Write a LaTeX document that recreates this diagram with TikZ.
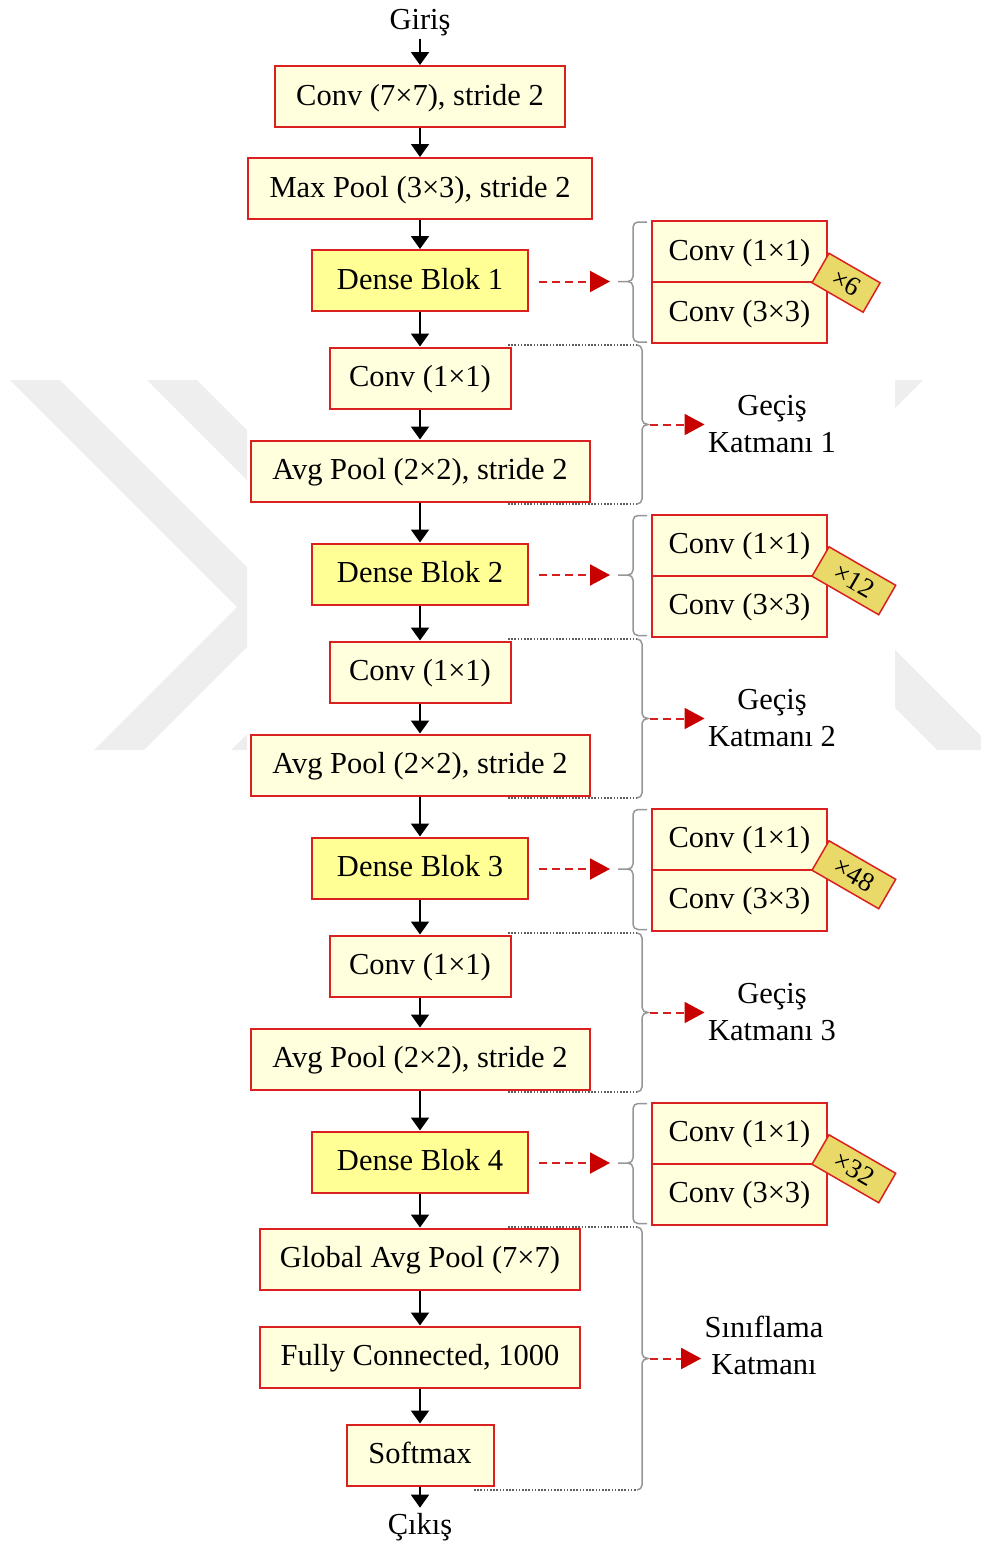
\documentclass[tikz,border=0pt]{standalone}
\usepackage{fontspec}
\setmainfont{Liberation Serif}
\usetikzlibrary{arrows.meta}

\definecolor{boxred}{RGB}{218,32,32}
\definecolor{boxfill}{RGB}{255,255,221}
\definecolor{densefill}{RGB}{255,255,150}
\definecolor{tagfill}{RGB}{232,217,104}
\definecolor{arrowred}{RGB}{200,0,0}
\definecolor{dashred}{RGB}{215,30,30}
\definecolor{bracegray}{RGB}{150,150,150}
\definecolor{dotgray}{RGB}{95,95,95}
\definecolor{markgray}{RGB}{238,238,238}

% curly brace on the left of a dense block's inner layers
\newcommand\DetailBrace[3]{% top y, tip y, bottom y
  \draw[brace] (647,#1) -- (638,#1) to[out=180,in=90] (633,#1+5) -- (633,#2-5)
    to[out=-90,in=0] (628,#2) -- (618,#2);
  \draw[brace] (647,#3) -- (638,#3) to[out=180,in=-90] (633,#3-5) -- (633,#2+5)
    to[out=90,in=0] (628,#2);
}
% dotted frame and brace grouping the layers of one stage
\newcommand\StageBrace[4]{% top y, tip y, bottom y, x where lower dotted line starts
  \draw[framedots] (508,#1) -- (637,#1);
  \draw[framedots] (#4,#3) -- (637,#3);
  \draw[brace] (637,#1) to[out=0,in=90] (642,#1+5) -- (642,#2-5)
    to[out=-90,in=180] (648,#2) to[out=180,in=90] (642,#2+5) -- (642,#3-5)
    to[out=-90,in=0] (637,#3);
}

\begin{document}
\begin{tikzpicture}[x=1pt,y=-1pt,
  every node/.style={font=\fontsize{30.5}{37}\selectfont},
  layer/.style={draw=boxred, fill=boxfill, line width=2pt, minimum height=61pt, inner sep=0pt,
    text height=21pt, text depth=4pt},
  dense/.style={layer, fill=densefill, minimum width=216pt},
  inner/.style={layer, minimum width=175pt},
  tag/.style={draw=boxred, fill=tagfill, line width=1.5pt, minimum height=34pt, inner sep=0pt,
    rotate=-30, anchor=south west, font=\fontsize{27}{30}\selectfont},
  flow/.style={line width=2pt, -{Triangle[width=18pt,length=13pt]}},
  hint/.style={dashred, line width=2pt, dash pattern=on 8pt off 5pt,
    -{Triangle[width=21pt,length=20pt,color=arrowred]}},
  brace/.style={bracegray, line width=1.5pt},
  framedots/.style={dotgray, line width=1.2pt, dash pattern=on 1.6pt off 1.6pt},
]
\useasboundingbox (0,0) rectangle (981,1547);

% faint background mark
\begin{scope}
  \clip (0,380) rectangle (247,750);
  \fill[markgray] (10,380) -- (60,380) -- (287,607) -- (144,750) -- (94,750) -- (237,607) -- cycle;
  \fill[markgray] (147,380) -- (197,380) -- (424,607) -- (281,750) -- (231,750) -- (374,607) -- cycle;
\end{scope}
\begin{scope}
  \clip (895,380) rectangle (981,750);
  \fill[markgray] (873,380) -- (923,380) -- (553,750) -- (503,750) -- cycle;
  \fill[markgray] (567,380) -- (625,380) -- (995,750) -- (937,750) -- cycle;
\end{scope}

% main path
\node[anchor=base, inner sep=3pt] (in) at (420,29) {Giriş};
\node[layer, minimum width=290pt] (c1) at (420,96.5) {Conv (7×7), stride 2};
\node[layer, minimum width=344pt] (mp) at (420,188.5) {Max Pool (3×3), stride 2};
\node[dense] (d1) at (420,280.5) {Dense Blok 1};
\node[layer, minimum width=181pt] (t1a) at (420,378) {Conv (1×1)};
\node[layer, minimum width=339pt] (t1b) at (420,471) {Avg Pool (2×2), stride 2};
\node[dense] (d2) at (420,574) {Dense Blok 2};
\node[layer, minimum width=181pt] (t2a) at (420,672) {Conv (1×1)};
\node[layer, minimum width=339pt] (t2b) at (420,765) {Avg Pool (2×2), stride 2};
\node[dense] (d3) at (420,868) {Dense Blok 3};
\node[layer, minimum width=181pt] (t3a) at (420,966) {Conv (1×1)};
\node[layer, minimum width=339pt] (t3b) at (420,1059) {Avg Pool (2×2), stride 2};
\node[dense] (d4) at (420,1162) {Dense Blok 4};
\node[layer, minimum width=320pt] (gap) at (420,1259) {Global Avg Pool (7×7)};
\node[layer, minimum width=320pt] (fc) at (420,1357) {Fully Connected, 1000};
\node[layer, minimum width=147pt] (sm) at (420,1455) {Softmax};
\node[anchor=base, inner sep=5pt] (out) at (420,1534) {Çıkış};

\foreach \a/\b in {in/c1, c1/mp, mp/d1, d1/t1a, t1a/t1b, t1b/d2, d2/t2a, t2a/t2b,
                   t2b/d3, d3/t3a, t3a/t3b, t3b/d4, d4/gap, gap/fc, fc/sm, sm/out}
  \draw[flow] (\a.south) -- (\b.north);

% inside of each dense block
\foreach \i/\cy/\n/\w in {1/280.5/6/59, 2/574/12/77, 3/868/48/77, 4/1162/32/77}{
  \node[inner] (dA\i) at (739.5,\cy-29) {Conv (1×1)};
  \node[inner] (dB\i) at (739.5,\cy+32) {Conv (3×3)};
  \node[tag, minimum width=\w pt] (rep\i) at ([xshift=-17pt]dA\i.south east) {×\n};
  \DetailBrace{\cy-58.5}{\cy+1}{\cy+61.5}
  \coordinate (bd\i) at (610,\cy+1);
  \draw[hint] ([xshift=10pt]d\i.east |- bd\i) -- (bd\i);
}

% transition and classification stages
\StageBrace{345}{424.5}{504}{508}
\StageBrace{639}{718.5}{798}{508}
\StageBrace{933}{1012.5}{1092}{508}
\StageBrace{1227}{1358.5}{1490}{474}

\node[align=center] (s1) at (772,424.5) {Geçiş\\Katmanı 1};
\node[align=center] (s2) at (772,718.5) {Geçiş\\Katmanı 2};
\node[align=center] (s3) at (772,1012.5) {Geçiş\\Katmanı 3};
\node[align=center] (s4) at (764,1345.5) {Sınıflama\\Katmanı};

\coordinate (bs1) at (650,424.5);
\coordinate (bs2) at (650,718.5);
\coordinate (bs3) at (650,1012.5);
\coordinate (bs4) at (650,1358.5);
\draw[hint] (bs1) -- (bs1 -| s1.west);
\draw[hint] (bs2) -- (bs2 -| s2.west);
\draw[hint] (bs3) -- (bs3 -| s3.west);
\draw[hint] (bs4) -- (bs4 -| s4.west);
\end{tikzpicture}
\end{document}
